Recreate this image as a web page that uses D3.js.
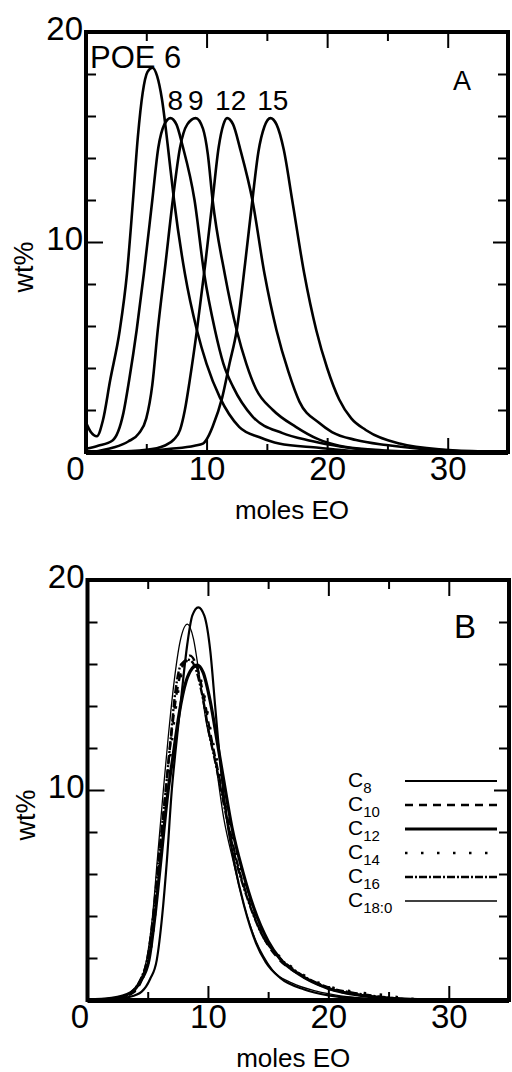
<!DOCTYPE html>
<html>
<head>
<meta charset="utf-8">
<script src="https://cdn.jsdelivr.net/npm/d3@7"></script>
<style>
  body { margin: 0; background: #fff; }
  svg text { font-family: 'Liberation Sans', Arial, sans-serif; fill: #000; }
</style>
</head>
<body>
<svg id="fig" width="512" height="1072"></svg>
<script>
// ---- data (x = moles EO, y = wt%) ----
const xMajor = [0, 10, 20, 30];
const xMinor = [5, 15, 25];
const yMajor = [10, 20];
const yMinor = [2, 4, 6, 8, 12, 14, 16, 18];

// panel A: POE distributions
const poeNames = ["6", "8", "9", "12", "15"];
const poe6 = [[0,1.4],[0.4,0.95],[0.9,0.75],[1.4,1.5],[2.0,3.4],[2.8,5.8],[3.4,8.5],[3.9,12],[4.3,15],[4.7,17.1],[5.1,18.1],[5.5,18.3],[5.9,17.9],[6.3,16.8],[6.8,14.5],[7.3,12],[8.2,8.5],[9.2,5.8],[10.0,4.2],[11.1,2.6],[12.7,1.2],[14.4,0.7],[16,0.4],[19.3,0.2],[22,0.05],[25,0]];
const poe8 = [[0,0.15],[1.0,0.3],[2.2,0.55],[3.1,1.85],[3.6,3.5],[4.2,5.8],[4.8,8.5],[5.5,12],[6.0,14.5],[6.5,15.6],[7.0,15.9],[7.5,15.6],[8.0,14.6],[9.0,12],[9.8,8.5],[10.7,5.8],[11.4,4.2],[12.2,3.1],[13.8,1.7],[16.3,0.9],[18.5,0.55],[20.4,0.33],[23.2,0.1],[27,0]];
const poe9 = [[0.5,0],[2.2,0.2],[3.5,0.5],[4.4,0.9],[5.0,1.6],[5.5,3.2],[5.95,5.8],[6.6,9],[7.2,12],[7.8,14.5],[8.4,15.6],[9.1,15.9],[9.7,15.4],[10.1,14.2],[10.5,12],[11.5,8.5],[12.5,5.8],[13.3,4.2],[14.1,3.0],[15.5,2.0],[17.4,1.2],[19.3,0.6],[21,0.3],[24,0.1],[28,0]];
const poe12 = [[2,0],[5,0.1],[6.5,0.3],[7.3,0.6],[7.8,1.05],[8.2,2],[8.6,3.4],[9.2,5.8],[9.9,9],[10.5,12],[11.0,14.5],[11.4,15.6],[11.7,15.9],[12.2,15.6],[12.8,14.4],[13.8,12],[14.8,8.5],[15.8,5.8],[16.8,3.8],[17.7,2.4],[19.3,1.4],[20.4,0.95],[22.4,0.57],[24.9,0.33],[28.7,0.1],[32,0]];
const poe15 = [[4,0],[7,0.15],[9,0.3],[9.7,0.4],[10.2,0.8],[10.5,1.2],[11.3,2.6],[11.9,4.2],[12.5,5.8],[13.2,9],[13.8,12],[14.3,14.3],[14.8,15.5],[15.3,15.9],[15.8,15.6],[16.4,14.4],[17.1,12],[18.1,8.5],[19.1,5.8],[20,4],[21,2.5],[22,1.6],[23.2,1.05],[26,0.4],[29.8,0.1],[33,0.02]];
const poeSeries = [poe6, poe8, poe9, poe12, poe15];
// where each POE label sits (x in moles EO)
const poeLabelX = [null, 7.4, 9.1, 12.0, 15.5];

// panel B: alkyl chain length
const chainNames = ["8", "10", "12", "14", "16", "18:0"];
const c8  = [[0,0],[2,0.05],[3.5,0.15],[4.5,0.4],[5.2,1.0],[5.75,1.9],[6.2,4],[6.6,6.7],[7.0,10],[7.3,11.8],[7.8,14.5],[8.3,17],[8.7,18.3],[9.2,18.7],[9.7,18.3],[10.2,16.6],[10.6,14],[11.0,11.4],[11.6,8.5],[12.2,6.5],[13.0,4.5],[14.0,2.7],[14.8,1.8],[16,1.05],[18,0.5],[20,0.22],[23,0.06],[26,0]];
const c10 = [[0,0],[2.5,0.08],[3.8,0.35],[4.6,1.1],[5.0,1.9],[5.5,4],[5.95,6.7],[6.5,10],[6.9,12.3],[7.4,14.6],[7.9,15.9],[8.5,16.4],[9.0,16.0],[9.6,14.6],[10.2,12.7],[10.8,11],[11.5,9],[12.4,6.6],[13.4,4.7],[14.6,3.0],[15.8,2.0],[17.5,1.25],[20,0.55],[23,0.2],[26,0.05],[28,0]];
const c12 = [[0,0],[2,0.08],[3.6,0.35],[4.4,0.9],[5.1,1.9],[5.6,4],[6.1,6.7],[6.7,10],[7.1,11.6],[7.6,13.6],[8.2,15.2],[8.7,15.8],[9.1,15.95],[9.6,15.6],[10.2,14.2],[10.8,12.2],[11.3,10.5],[12.0,8.2],[12.9,6.1],[13.8,4.4],[15,2.8],[16,1.95],[17.5,1.25],[20,0.55],[23,0.2],[26,0.05],[28,0]];
const c14 = [[0,0],[2.5,0.08],[3.8,0.4],[4.7,1.2],[5.1,1.9],[5.6,4],[6.0,6.7],[6.6,10],[7.0,12.3],[7.5,14.6],[8.0,15.9],[8.6,16.3],[9.1,15.9],[9.7,14.5],[10.3,12.6],[10.9,11],[11.6,9],[12.5,6.6],[13.5,4.7],[14.7,3.0],[15.9,2.1],[17.5,1.35],[20,0.65],[22,0.4],[24.5,0.24],[26.5,0.08],[28,0]];
const c16 = [[0,0],[2.5,0.08],[3.7,0.4],[4.5,1.1],[4.95,1.9],[5.45,4],[5.9,6.7],[6.5,10],[6.9,12.4],[7.3,14.7],[7.8,16.0],[8.4,16.2],[8.9,15.9],[9.5,14.6],[10.1,12.7],[10.7,11.1],[11.4,9.1],[12.3,6.7],[13.3,4.8],[14.5,3.1],[15.8,2.1],[17.5,1.3],[20,0.6],[22,0.35],[24,0.18],[27,0]];
const c18 = [[0,0],[2,0.05],[3.5,0.3],[4.3,0.8],[4.9,1.9],[5.4,4],[5.8,6.7],[6.3,10],[6.7,12.5],[7.2,15.2],[7.7,17.1],[8.3,17.9],[8.8,17.2],[9.3,15.4],[9.9,13.1],[10.6,11.4],[11.3,8.7],[12.1,6.6],[13.0,4.5],[14.0,2.8],[14.6,2.1],[15.4,1.4],[17,0.8],[19,0.42],[21,0.2],[24,0.05],[27,0]];
const chainSeries = [c8, c10, c12, c14, c16, c18];

// line styles for panel B
const chainStyle = [
  { w: 2.2, dash: null },
  { w: 2.4, dash: "8,6" },
  { w: 3.2, dash: null },
  { w: 2.6, dash: "2.5,13.5" },
  { w: 2.4, dash: "8,2,2,2" },
  { w: 1.3, dash: null }
];

const svg = d3.select("#fig");

function drawFrame(g, x, y, label0dx) {
  const [x0, x1] = x.range();
  const [y0, y1] = y.range(); // y0 bottom, y1 top

  // inner ticks: bottom
  g.append("g").attr("transform", `translate(0,${y0})`)
    .call(d3.axisBottom(x).tickValues(xMinor).tickSizeInner(-8).tickSizeOuter(0).tickFormat(""))
    .call(a => a.select(".domain").remove());
  g.append("g").attr("class", "xlab").attr("transform", `translate(0,${y0})`)
    .call(d3.axisBottom(x).tickValues(xMajor).tickSizeInner(-14).tickSizeOuter(0).tickPadding(5))
    .call(a => a.select(".domain").remove());
  // top
  g.append("g").attr("transform", `translate(0,${y1})`)
    .call(d3.axisTop(x).tickValues(xMinor).tickSizeInner(-9).tickSizeOuter(0).tickFormat(""))
    .call(a => a.select(".domain").remove());
  g.append("g").attr("transform", `translate(0,${y1})`)
    .call(d3.axisTop(x).tickValues(xMajor.slice(1)).tickSizeInner(-16).tickSizeOuter(0).tickFormat(""))
    .call(a => a.select(".domain").remove());
  // left
  g.append("g").attr("transform", `translate(${x0},0)`)
    .call(d3.axisLeft(y).tickValues(yMinor).tickSizeInner(-10).tickSizeOuter(0).tickFormat(""))
    .call(a => a.select(".domain").remove());
  g.append("g").attr("class", "ylab").attr("transform", `translate(${x0},0)`)
    .call(d3.axisLeft(y).tickValues(yMajor).tickSizeInner(-17).tickSizeOuter(0).tickPadding(3))
    .call(a => a.select(".domain").remove());
  // right
  g.append("g").attr("transform", `translate(${x1},0)`)
    .call(d3.axisRight(y).tickValues(yMinor).tickSizeInner(-10).tickSizeOuter(0).tickFormat(""))
    .call(a => a.select(".domain").remove());
  g.append("g").attr("transform", `translate(${x1},0)`)
    .call(d3.axisRight(y).tickValues([10]).tickSizeInner(-15).tickSizeOuter(0).tickFormat(""))
    .call(a => a.select(".domain").remove());

  g.selectAll(".tick line").attr("stroke", "#000").attr("stroke-width", 2);
  g.selectAll(".tick text").style("font-size", "33px").attr("fill", "#000");
  g.selectAll(".ylab .tick text").attr("dy", "0.22em");
  g.selectAll(".xlab .tick text").filter(d => d === 0).attr("dx", label0dx);

  g.append("rect")
    .attr("x", x0).attr("y", y1)
    .attr("width", x1 - x0).attr("height", y0 - y1)
    .attr("fill", "none").attr("stroke", "#000").attr("stroke-width", 4);
  // bottom edge is a little heavier
  g.append("line")
    .attr("x1", x0).attr("x2", x1).attr("y1", y0 + 1).attr("y2", y0 + 1)
    .attr("stroke", "#000").attr("stroke-width", 4);

  // axis titles
  g.append("text")
    .attr("x", (x0 + x1) / 2 - 5).attr("y", y0 + 67)
    .attr("text-anchor", "middle").style("font-size", "26px")
    .text("moles EO");
  g.append("text")
    .attr("transform", `translate(${x0 - 53},${(y0 + y1) / 2 + 25}) rotate(-90)`)
    .attr("text-anchor", "middle").style("font-size", "27px")
    .text("wt%");
}

// ---------- panel A ----------
const xA = d3.scaleLinear().domain([0, 35]).range([86, 508]);
const yA = d3.scaleLinear().domain([0, 20]).range([452, 32]);
const gA = svg.append("g");

const lineA = d3.line()
  .x(d => xA(d[0])).y(d => yA(d[1]))
  .curve(d3.curveMonotoneX);

gA.append("g").selectAll("path")
  .data(poeSeries)
  .join("path")
  .attr("d", lineA)
  .attr("fill", "none").attr("stroke", "#000").attr("stroke-width", 2.6)
  .attr("stroke-linejoin", "round");

drawFrame(gA, xA, yA, -11);

gA.append("text").attr("x", 90).attr("y", 68).style("font-size", "31px")
  .text("POE " + poeNames[0]);
gA.selectAll("text.poe")
  .data(poeNames.slice(1))
  .join("text").attr("class", "poe")
  .attr("x", (d, i) => xA(poeLabelX[i + 1]))
  .attr("y", 110)
  .attr("text-anchor", "middle").style("font-size", "28px")
  .text(d => d);
gA.append("text").attr("x", 462).attr("y", 90).attr("text-anchor", "middle")
  .style("font-size", "27px").text("A");

// ---------- panel B ----------
const xB = d3.scaleLinear().domain([0, 35]).range([87.5, 509]);
const yB = d3.scaleLinear().domain([0, 20]).range([1000, 580]);
const gB = svg.append("g");

const lineB = d3.line()
  .x(d => xB(d[0])).y(d => yB(d[1]))
  .curve(d3.curveMonotoneX);

gB.append("g").selectAll("path")
  .data(chainSeries)
  .join("path")
  .attr("d", lineB)
  .attr("fill", "none").attr("stroke", "#000")
  .attr("stroke-width", (d, i) => chainStyle[i].w)
  .attr("stroke-dasharray", (d, i) => chainStyle[i].dash);

drawFrame(gB, xB, yB, -8);

gB.append("text").attr("x", 465).attr("y", 638).attr("text-anchor", "middle")
  .style("font-size", "33px").text("B");

// legend
const legY = d3.scaleLinear().domain([0, 5]).range([787, 907]);
const leg = gB.append("g").selectAll("g")
  .data(chainNames)
  .join("g");
const legText = leg.append("text")
  .attr("x", 348).attr("y", (d, i) => legY(i))
  .style("font-size", "21px");
legText.append("tspan").text("C");
legText.append("tspan").attr("dy", 6).style("font-size", "15px").text(d => d);
leg.append("line")
  .attr("x1", 405).attr("x2", 497)
  .attr("y1", (d, i) => legY(i) - 6).attr("y2", (d, i) => legY(i) - 6)
  .attr("stroke", "#000")
  .attr("stroke-width", (d, i) => chainStyle[i].w)
  .attr("stroke-dasharray", (d, i) => chainStyle[i].dash);
</script>
</body>
</html>
